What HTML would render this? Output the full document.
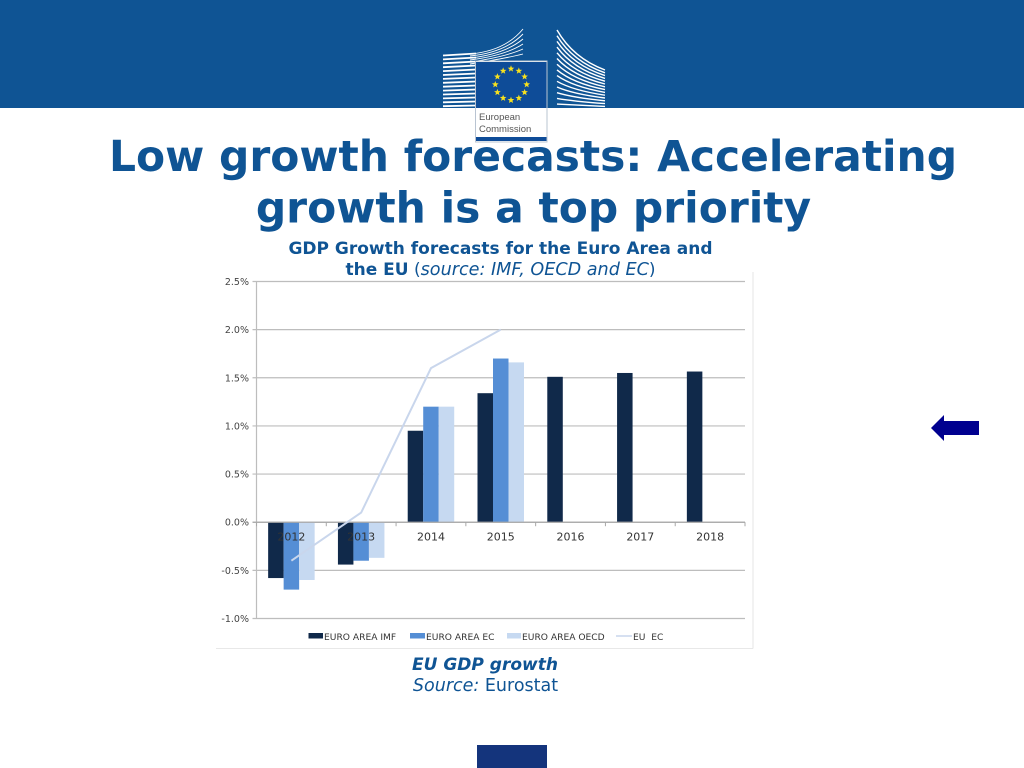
<!DOCTYPE html>
<html>
<head>
<meta charset="utf-8">
<title>Low growth forecasts</title>
<style>
html,body{margin:0;padding:0;background:#fff;width:1024px;height:768px;overflow:hidden}
svg{display:block}
text{font-family:"DejaVu Sans","Liberation Sans",sans-serif}
</style>
</head>
<body>
<svg id="s" width="1024" height="768" viewBox="0 0 1024 768" xmlns="http://www.w3.org/2000/svg">
  <rect x="0" y="0" width="1024" height="108" fill="#0f5494"/>
  <g id="logo">
    <g id="bldg" fill="none" stroke="#fff" stroke-width="1.3"></g>
    <rect x="475.5" y="61" width="71.5" height="81" fill="#fff" stroke="#b9c4d2" stroke-width="1"/>
    <rect x="476" y="62" width="70.5" height="46" fill="#0e4c98"/>
    <g id="stars" fill="#f7e11e"></g>
    <text x="479" y="120" font-size="9.5" fill="#555" style="font-family:'Liberation Sans',sans-serif">European</text>
    <text x="479" y="132" font-size="9.5" fill="#555" style="font-family:'Liberation Sans',sans-serif">Commission</text>
    <rect x="476" y="137" width="70.5" height="4" fill="#0e4c98"/>
  </g>
  <text x="533" y="171" text-anchor="middle" font-size="42.4" font-weight="700" fill="#0f5494">Low growth forecasts: Accelerating</text>
  <text x="533.5" y="222.5" text-anchor="middle" font-size="42.4" font-weight="700" fill="#0f5494">growth is a top priority</text>
  <text x="500.5" y="254" text-anchor="middle" font-size="17" font-weight="700" fill="#0f5494">GDP Growth forecasts for the Euro Area and</text>
  <text x="500.5" y="275" text-anchor="middle" font-size="17" fill="#0f5494"><tspan font-weight="700">the EU</tspan> (<tspan font-style="italic" font-size="17.6">source: IMF, OECD and EC</tspan>)</text>

  <g id="chart">
    <line x1="216" y1="648.5" x2="753" y2="648.5" stroke="#e8e8e8"/>
    <line x1="753" y1="272" x2="753" y2="648.5" stroke="#e4e4e4"/>
  </g>

  <text x="485" y="670" text-anchor="middle" font-size="17" font-weight="700" font-style="italic" fill="#0f5494">EU GDP growth</text>
  <text x="485.5" y="691" text-anchor="middle" font-size="17.5" fill="#0f5494"><tspan font-style="italic">Source:</tspan> Eurostat</text>

  <polygon points="931,428 944,415 944,421 979,421 979,435 944,435 944,441" fill="#00008f"/>
  <rect x="477" y="745" width="70" height="23" fill="#14347c"/>
</svg>
<script>
var categories = ['2012','2013','2014','2015','2016','2017','2018'];
var yTicks = [-1.0,-0.5,0.0,0.5,1.0,1.5,2.0,2.5];
var imfValues = [-0.58,-0.44,0.95,1.34,1.51,1.55,1.565];
var ecValues = [-0.70,-0.40,1.20,1.70,null,null,null];
var oecdValues = [-0.60,-0.37,1.20,1.66,null,null,null];
var euEcValues = [-0.40,0.10,1.60,2.00,null,null,null];
var seriesNames = ['EURO AREA IMF','EURO AREA EC','EURO AREA OECD','EU  EC'];

var NS = 'http://www.w3.org/2000/svg';
var chart = document.getElementById('chart');
var plotLeft = 256.5, plotRight = 745, plotTop = 281.5, plotBottom = 618.5, yMin = -1, yMax = 2.5;
var step = (plotRight - plotLeft) / categories.length;
var barW = 15.5;
function yScale(v){ return plotBottom - (v - yMin) / (yMax - yMin) * (plotBottom - plotTop); }
function xScale(i){ return plotLeft + step * (i + 0.5); }
function mk(tag, attrs, parent){
  var el = document.createElementNS(NS, tag);
  for (var k in attrs) el.setAttribute(k, attrs[k]);
  (parent || chart).appendChild(el);
  return el;
}

yTicks.forEach(function(t){
  var y = yScale(t);
  var g = mk('line', {x1: plotLeft - 4, y1: y, x2: plotRight, y2: y, stroke: '#bdbdbd', 'stroke-width': 1.2});
  
  
  var l = mk('text', {x: 249, y: y + 3.5, 'text-anchor': 'end', 'font-size': 9.5, fill: '#444'});
  
  
  l.textContent = t.toFixed(1) + '%';
});
var yAxis = mk('line', {x1: plotLeft, y1: plotTop, x2: plotLeft, y2: plotBottom, stroke: '#bdbdbd', 'stroke-width': 1.2});



function drawBars(values, color, offset, name){
  values.forEach(function(v, i){
    if (v === null) return;
    var y0 = yScale(0), y1 = yScale(v);
    var r = mk('rect', {x: xScale(i) + offset, y: Math.min(y0, y1), width: barW, height: Math.abs(y1 - y0), fill: color});
    
    
  });
}
drawBars(imfValues, '#10294a', -barW * 1.5, 'bar-euro-area-imf');
drawBars(ecValues, '#558ed5', -barW * 0.5, 'bar-euro-area-ec');
drawBars(oecdValues, '#c6d9f1', barW * 0.5, 'bar-euro-area-oecd');

var zeroAxis = mk('line', {x1: plotLeft - 4, y1: yScale(0), x2: plotRight, y2: yScale(0), stroke: '#a8a8a8', 'stroke-width': 1.2});


for (var i = 0; i <= categories.length; i++) {
  var tick = mk('line', {x1: plotLeft + step * i, y1: yScale(0), x2: plotLeft + step * i, y2: yScale(0) + 4, stroke: '#a8a8a8'});
  
  
}

var pts = [];
euEcValues.forEach(function(v, i){ if (v !== null) pts.push(xScale(i) + ',' + yScale(v)); });
var line = mk('polyline', {points: pts.join(' '), fill: 'none', stroke: '#c9d6ec', 'stroke-width': 2});



categories.forEach(function(c, i){
  var t = mk('text', {x: xScale(i), y: yScale(0) + 18.5, 'text-anchor': 'middle', 'font-size': 11, fill: '#333'});
  
  
  t.textContent = c;
});

var legendColors = ['#10294a','#558ed5','#c6d9f1','#c9d6ec'];
var legendSwatchX = [308.5,410,507,616];
var legendWidths = [14.5,15,14,16];
seriesNames.forEach(function(n, i){
  var sw;
  if (i < 3) {
    sw = mk('rect', {x: legendSwatchX[i], y: 633, width: legendWidths[i], height: 5.5, fill: legendColors[i]});
  } else {
    sw = mk('line', {x1: legendSwatchX[i], y1: 636, x2: legendSwatchX[i] + legendWidths[i], y2: 636, stroke: legendColors[i], 'stroke-width': 1.5});
  }
  
  
  var t = mk('text', {x: legendSwatchX[i] + legendWidths[i] + 1, y: 640, 'font-size': 9.15, fill: '#333'});
  
  
  t.style.whiteSpace = 'pre';
  t.textContent = n;
});

/* logo decoration */
var stars = document.getElementById('stars');
for (var s = 0; s < 12; s++) {
  var a = s * Math.PI / 6, cx = 511 + 15.7 * Math.sin(a), cy = 84.5 - 15.7 * Math.cos(a), p = [];
  for (var k = 0; k < 10; k++) {
    var r = k % 2 ? 1.5 : 3.5, b = k * Math.PI / 5;
    p.push((cx + r * Math.sin(b)).toFixed(2) + ',' + (cy - r * Math.cos(b)).toFixed(2));
  }
  var st = mk('polygon', {points: p.join(' ')}, stars);
  
  
}
var bldg = document.getElementById('bldg');
for (var n = 0; n < 14; n++) {
  var yL = 55.5 + n * 3.9;
  var pL = mk('path', {d: 'M443 ' + yL + ' L476 ' + (yL - 2 + n * 0.1), 'stroke-width': 1.8}, bldg);
  
  
  var pR = mk('path', {d: 'M605 ' + (70 + n * 2.8) + ' Q573 ' + (58 + n * 3.6) + ' 557 ' + (30 + n * 5.7), 'stroke-width': 1.4}, bldg);
  
  
}
for (var m = 0; m < 6; m++) {
  var pC = mk('path', {d: 'M470 ' + (54 + m * 2) + ' Q505 ' + (51 + m * 1.5) + ' 523 ' + (29 + m * 5), 'stroke-width': 0.9}, bldg);
  
  
}
</script>
</body>
</html>
